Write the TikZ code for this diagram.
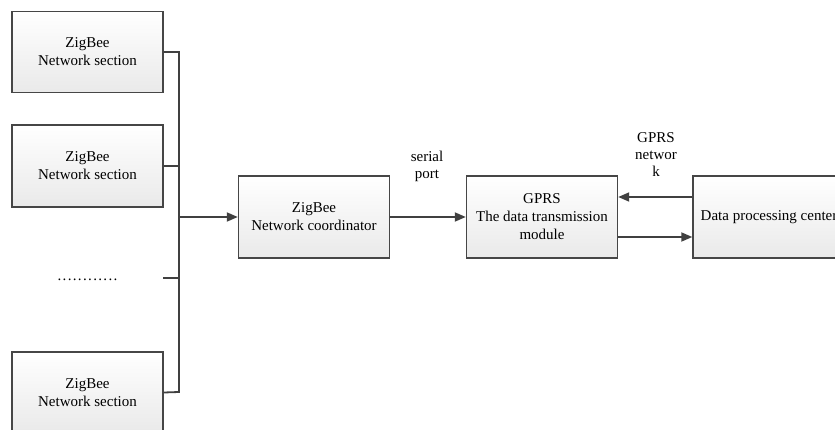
\documentclass[tikz,border=0pt]{standalone}
\usepackage{fontspec}
\setmainfont{Liberation Serif}
\usetikzlibrary{arrows.meta}
\begin{document}
\begin{tikzpicture}[x=1pt,y=-1pt,
  blockbox/.style={draw=gray!55!black, line width=1.4pt, top color=white, bottom color=gray!17,
    minimum width=151pt, minimum height=82pt, inner sep=0pt, align=center,
    font=\fontsize{15}{18}\selectfont},
  lbl/.style={align=center, font=\fontsize{15}{17}\selectfont, inner sep=0pt},
  wire/.style={draw=black!75, line width=1.8pt},
  arr/.style={wire, -{Triangle[length=11pt,width=9pt]}}]
\useasboundingbox (0,0) rectangle (835,430);

% sensor network sections
\node[blockbox, minimum height=81pt] (s1) at (87.5,52) {ZigBee\\Network section};
\node[blockbox, minimum height=82pt] (s2) at (87.5,166) {ZigBee\\Network section};
\node[blockbox, minimum height=81pt] (s3) at (87.5,392.5) {ZigBee\\Network section};
\node[lbl, font=\fontsize{15}{17}\selectfont\addfontfeature{LetterSpace=9}] (dots) at (87.5,280) {............};
\coordinate (dstub) at (163,278);

% trunk line
\coordinate (t1) at (179,52);
\coordinate (t2) at (179,166);
\coordinate (tm) at (179,217);
\coordinate (td) at (179,278);
\coordinate (t3) at (179,392);

% main chain
\node[blockbox] (coord) at (314,217) {ZigBee\\Network coordinator};
\node[blockbox] (gprs) at (542,217) {GPRS\\The data transmission\\module};
\node[blockbox, minimum width=152pt] (dpc) at (769,217) {Data processing center};

\node[lbl] (serial) at (427,166) {serial\\port};
\node[lbl] (net) at (656,155) {GPRS\\networ\\k};

\draw[wire] (s1.east) -- (t1) -- (t3) -- (s3.east);
\draw[wire] (s2.east) -- (t2);
\draw[wire] (dstub) -- (td);
\draw[arr] (tm) -- (coord.west);
\draw[arr] (coord.east) -- (gprs.west);
\draw[arr] ([yshift=20pt]dpc.west) -- ([yshift=20pt]gprs.east);
\draw[arr] ([yshift=-20pt]gprs.east) -- ([yshift=-20pt]dpc.west);
\end{tikzpicture}
\end{document}
